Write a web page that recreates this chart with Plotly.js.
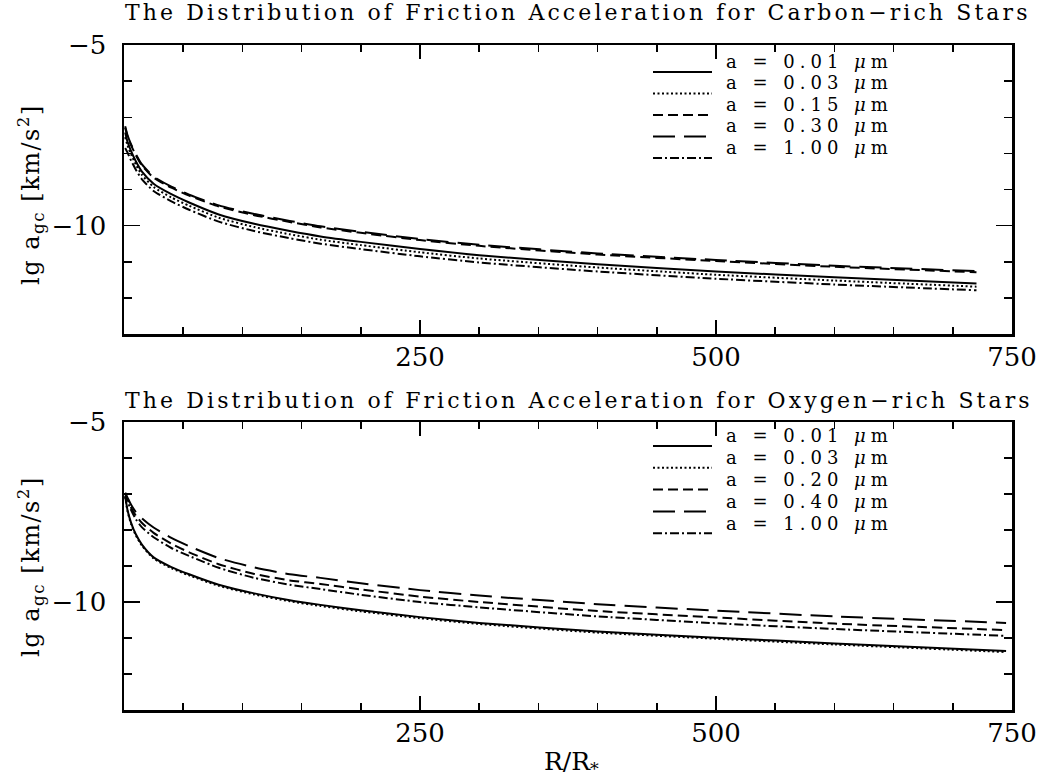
<!DOCTYPE html>
<html>
<head>
<meta charset="utf-8">
<script src="https://cdn.plot.ly/plotly-3.0.1.min.js"></script>
<style>html,body{margin:0;padding:0;background:#fff;}</style>
</head>
<body>
<div id="chart" style="width:1041px;height:781px;"></div>
<script>
// ---------- data ----------
// Carbon-rich stars (top panel)
const R_CARBON = [1, 3, 6, 10, 15, 25, 40, 55, 80, 110, 140, 166, 200, 250, 300, 400, 500, 600, 720];
const C_A001 = [-7.42, -7.68, -7.94, -8.22, -8.50, -8.84, -9.13, -9.36, -9.69, -9.95, -10.15, -10.30, -10.45, -10.65, -10.82, -11.07, -11.27, -11.43, -11.60];
const C_A003 = [-7.55, -7.78, -8.03, -8.31, -8.59, -8.93, -9.22, -9.45, -9.78, -10.04, -10.24, -10.39, -10.54, -10.74, -10.91, -11.16, -11.36, -11.52, -11.69];
const C_A015 = [-7.29, -7.53, -7.78, -8.05, -8.33, -8.67, -8.95, -9.17, -9.47, -9.71, -9.90, -10.05, -10.20, -10.40, -10.56, -10.80, -10.98, -11.14, -11.29];
const C_A030 = [-7.25, -7.50, -7.75, -8.02, -8.30, -8.64, -8.92, -9.14, -9.44, -9.68, -9.87, -10.02, -10.17, -10.37, -10.53, -10.77, -10.95, -11.11, -11.26];
const C_A100 = [-7.85, -7.98, -8.20, -8.45, -8.71, -9.04, -9.33, -9.56, -9.89, -10.15, -10.35, -10.50, -10.65, -10.85, -11.02, -11.27, -11.47, -11.63, -11.79];
const C_LABELS = ["a = 0.01 <i>μ</i>m", "a = 0.03 <i>μ</i>m", "a = 0.15 <i>μ</i>m", "a = 0.30 <i>μ</i>m", "a = 1.00 <i>μ</i>m"];

// Oxygen-rich stars (bottom panel)
const R_OXYGEN = [1, 3, 6, 10, 15, 25, 40, 55, 80, 110, 140, 166, 200, 250, 300, 400, 500, 600, 745];
const O_A001 = [-7.05, -7.45, -7.80, -8.12, -8.40, -8.76, -9.03, -9.23, -9.52, -9.76, -9.95, -10.08, -10.23, -10.42, -10.58, -10.82, -10.99, -11.15, -11.36];
const O_A003 = [-7.08, -7.48, -7.83, -8.15, -8.43, -8.79, -9.06, -9.26, -9.55, -9.79, -9.98, -10.11, -10.26, -10.45, -10.61, -10.85, -11.02, -11.18, -11.39];
const O_A020 = [-6.97, -7.15, -7.38, -7.60, -7.80, -8.08, -8.38, -8.62, -8.95, -9.22, -9.40, -9.50, -9.65, -9.85, -10.00, -10.25, -10.43, -10.60, -10.78];
const O_A040 = [-6.97, -7.10, -7.30, -7.50, -7.67, -7.93, -8.22, -8.45, -8.78, -9.04, -9.23, -9.33, -9.48, -9.67, -9.82, -10.06, -10.24, -10.40, -10.58];
const O_A100 = [-6.97, -7.20, -7.45, -7.70, -7.92, -8.20, -8.50, -8.72, -9.05, -9.33, -9.52, -9.64, -9.80, -10.00, -10.15, -10.40, -10.59, -10.75, -10.94];
const O_LABELS = ["a = 0.01 <i>μ</i>m", "a = 0.03 <i>μ</i>m", "a = 0.20 <i>μ</i>m", "a = 0.40 <i>μ</i>m", "a = 1.00 <i>μ</i>m"];

const X_TICKS = [250, 500, 750];
const Y_TICKS = [-5, -10];
const TITLE_TOP = "The Distribution of Friction Acceleration for Carbon−rich Stars";
const TITLE_BOTTOM = "The Distribution of Friction Acceleration for Oxygen−rich Stars";
const Y_TITLE = "lg a<sub>gc</sub> [km/s<sup>2</sup>]";
const X_TITLE = "R/R<sub>*</sub>";

// ---------- styles ----------
const FONT = "DejaVu Serif";
const DASHES = ["solid", "2px,2.5px", "10px,5px", "22px,9px", "9px,3px,2px,3px"];
const spaced = (t, px) => '<span style="letter-spacing:' + px + 'px">' + t + '</span>';

// ---------- geometry helpers ----------
const W = 1041, H = 781, ML = 124, MR = 29, MT = 45, MB = 71;
const PW = W - ML - MR, PH = H - MT - MB;
const pxX = p => (p - ML) / PW;
const pxY = p => (H - MB - p) / PH;

const TOP_DOM = [pxY(334), 1];
const BOT_DOM = [0, pxY(422)];

function mk(x, y, dash, xa, ya) {
  return {x: x, y: y, type: 'scatter', mode: 'lines', xaxis: xa, yaxis: ya,
    line: {color: '#000', width: 2, dash: dash, shape: 'spline', smoothing: 0.6},
    showlegend: false, hoverinfo: 'skip'};
}

const traces = [
  mk(R_CARBON, C_A001, DASHES[0], 'x', 'y'),
  mk(R_CARBON, C_A003, DASHES[1], 'x', 'y'),
  mk(R_CARBON, C_A015, DASHES[2], 'x', 'y'),
  mk(R_CARBON, C_A030, DASHES[3], 'x', 'y'),
  mk(R_CARBON, C_A100, DASHES[4], 'x', 'y'),
  mk(R_OXYGEN, O_A001, DASHES[0], 'x2', 'y2'),
  mk(R_OXYGEN, O_A003, DASHES[1], 'x2', 'y2'),
  mk(R_OXYGEN, O_A020, DASHES[2], 'x2', 'y2'),
  mk(R_OXYGEN, O_A040, DASHES[3], 'x2', 'y2'),
  mk(R_OXYGEN, O_A100, DASHES[4], 'x2', 'y2'),
];

function xax(anchor) {
  return {anchor: anchor, domain: [0, 1], range: [0, 750],
    tickmode: 'array', tickvals: X_TICKS, ticktext: X_TICKS.map(String),
    showticklabels: true, ticks: 'inside', ticklen: 14, tickwidth: 1.5, tickcolor: '#000',
    minor: {dtick: 50, tick0: 0, ticks: 'inside', ticklen: 7, tickwidth: 1.5, tickcolor: '#000', showgrid: false},
    showline: true, linecolor: '#000', linewidth: 2.5, mirror: 'ticks',
    showgrid: false, zeroline: false, ticklabelstandoff: -2,
    tickfont: {family: FONT, size: 26, color: '#000'}};
}
function yax(anchor, dom) {
  return {anchor: anchor, domain: dom, range: [-13, -5],
    tickmode: 'array', tickvals: Y_TICKS, ticktext: Y_TICKS.map(v => '−' + Math.abs(v)),
    ticks: 'inside', ticklen: 16, tickwidth: 1.5, tickcolor: '#000',
    minor: {dtick: 1, tick0: 0, ticks: 'inside', ticklen: 8, tickwidth: 1.5, tickcolor: '#000', showgrid: false},
    showline: true, linecolor: '#000', linewidth: 2.5, mirror: 'ticks',
    showgrid: false, zeroline: false, ticklabelstandoff: 10,
    tickfont: {family: FONT, size: 26, color: '#000'}};
}

const annotations = [];
const shapes = [];
function addTitle(text, yCenterPx) {
  annotations.push({text: spaced(text, 3.1), xref: 'paper', yref: 'paper', x: pxX(123), y: pxY(yCenterPx),
    xanchor: 'left', yanchor: 'middle', showarrow: false,
    font: {family: FONT, size: 22, color: '#000'}});
}
addTitle(TITLE_TOP, 13);
addTitle(TITLE_BOTTOM, 400);

function addYTitle(yCenterPx) {
  annotations.push({text: spaced(Y_TITLE, 1.5), xref: 'paper', yref: 'paper', x: pxX(30), y: pxY(yCenterPx),
    xanchor: 'center', yanchor: 'middle', textangle: -90, showarrow: false,
    font: {family: FONT, size: 24, color: '#000'}});
}
addYTitle(195);
addYTitle(567);

annotations.push({text: X_TITLE, xref: 'paper', yref: 'paper', x: pxX(571), y: pxY(763),
  xanchor: 'center', yanchor: 'middle', showarrow: false,
  font: {family: FONT, size: 25, color: '#000'}});

function addLegend(labels, firstTextPx, firstLinePx, step) {
  labels.forEach((lab, i) => {
    annotations.push({text: spaced(lab, 5), xref: 'paper', yref: 'paper', x: pxX(725), y: pxY(firstTextPx + i * step),
      xanchor: 'left', yanchor: 'middle', showarrow: false, borderpad: 0,
      font: {family: FONT, size: 18, color: '#000'}});
    shapes.push({type: 'line', xref: 'paper', yref: 'paper',
      x0: pxX(653), x1: pxX(712), y0: pxY(firstLinePx + i * step), y1: pxY(firstLinePx + i * step),
      line: {color: '#000', width: 2, dash: DASHES[i]}});
  });
}
addLegend(C_LABELS, 61, 72, 21.5);
addLegend(O_LABELS, 436, 446, 21.8);

const layout = {
  width: W, height: H,
  margin: {l: ML, r: MR, t: MT, b: MB, autoexpand: false},
  paper_bgcolor: '#fff', plot_bgcolor: '#fff',
  showlegend: false,
  xaxis: xax('y'),
  yaxis: yax('x', TOP_DOM),
  xaxis2: xax('y2'),
  yaxis2: yax('x2', BOT_DOM),
  annotations: annotations,
  shapes: shapes,
  font: {family: FONT, color: '#000'}
};

Plotly.newPlot('chart', traces, layout, {displayModeBar: false, staticPlot: true});
</script>
</body>
</html>
